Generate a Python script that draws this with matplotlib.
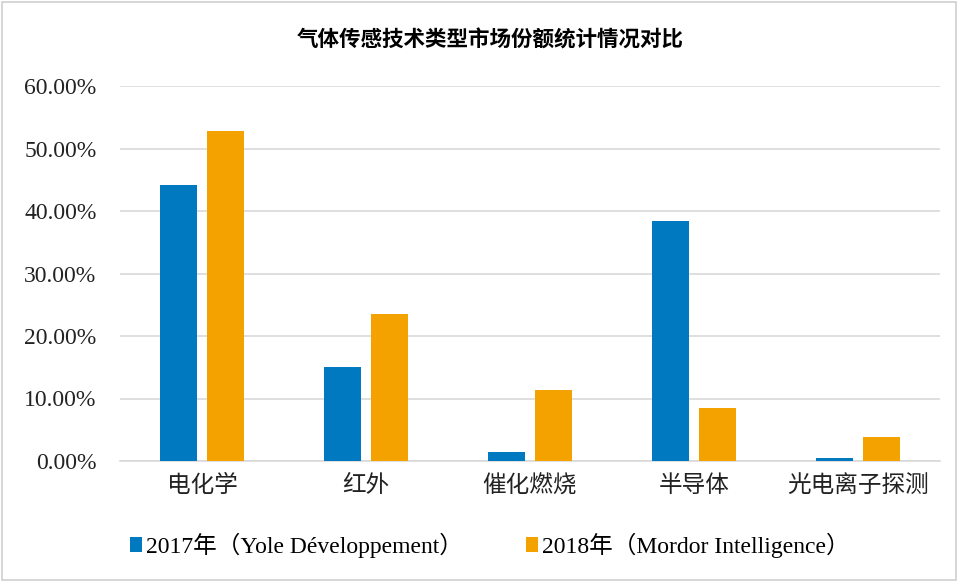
import matplotlib
matplotlib.use("Agg")
import matplotlib.pyplot as plt
import numpy as np
from matplotlib.patches import Rectangle

categories = ["电化学", "红外", "催化燃烧", "半导体", "光电离子探测"]
series_names = ["2017年（Yole Développement）", "2018年（Mordor Intelligence）"]
values_2017 = [44.2, 15.0, 1.5, 38.4, 0.5]
values_2018 = [52.8, 23.5, 11.4, 8.5, 3.8]
yticks = [0, 10, 20, 30, 40, 50, 60]
ytick_labels = ["0.00%", "10.00%", "20.00%", "30.00%", "40.00%", "50.00%", "60.00%"]
title = "气体传感技术类型市场份额统计情况对比"

colors = ["#0179C1", "#F4A200"]
serif = ["Liberation Serif", "Noto Sans CJK SC"]

W, H = 958, 581
fig = plt.figure(figsize=(W / 100, H / 100), dpi=100)
ax = fig.add_axes([120 / W, 1 - 461 / H, 820 / W, 375 / H])

x = np.arange(len(categories))
bw = 0.225
ax.bar(x - 0.143, values_2017, bw, color=colors[0], label=series_names[0], zorder=3)
ax.bar(x + 0.143, values_2018, bw, color=colors[1], label=series_names[1], zorder=3)

ax.set_xlim(-0.5, len(categories) - 0.5)
ax.set_ylim(0, 60)
ax.set_yticks(yticks)
ax.set_yticklabels(ytick_labels, fontfamily=serif, fontsize=17, color="#222222")
ax.set_xticks(x)
ax.set_xticklabels(categories, fontfamily=serif, fontsize=17, color="#222222")
ax.tick_params(axis="both", length=0)
ax.tick_params(axis="y", pad=17)
ax.tick_params(axis="x", pad=10)
ax.grid(axis="y", color="#D9D9D9", linewidth=1.2, zorder=0)
for s in ["top", "right", "left"]:
    ax.spines[s].set_visible(False)
ax.spines["bottom"].set_color("#D9D9D9")
ax.spines["bottom"].set_linewidth(1.2)

fig.text(490 / W, 1 - 40 / H, title, ha="center", va="center",
         fontfamily=["Noto Sans CJK SC", "DejaVu Sans"], fontweight="bold", fontsize=15.5)

leg = fig.legend(loc="center", bbox_to_anchor=(490 / W, 1 - 545 / H), ncol=2,
                 frameon=False, prop={"family": serif, "size": 17},
                 handlelength=0.5, handleheight=0.6, handletextpad=0.2, columnspacing=2.65)

fig.patches.append(Rectangle((0.002, 0.002), 0.996, 0.995, transform=fig.transFigure,
                             fill=False, edgecolor="#D0D0D0", linewidth=1.2))

fig.savefig("out.png", dpi=100)
